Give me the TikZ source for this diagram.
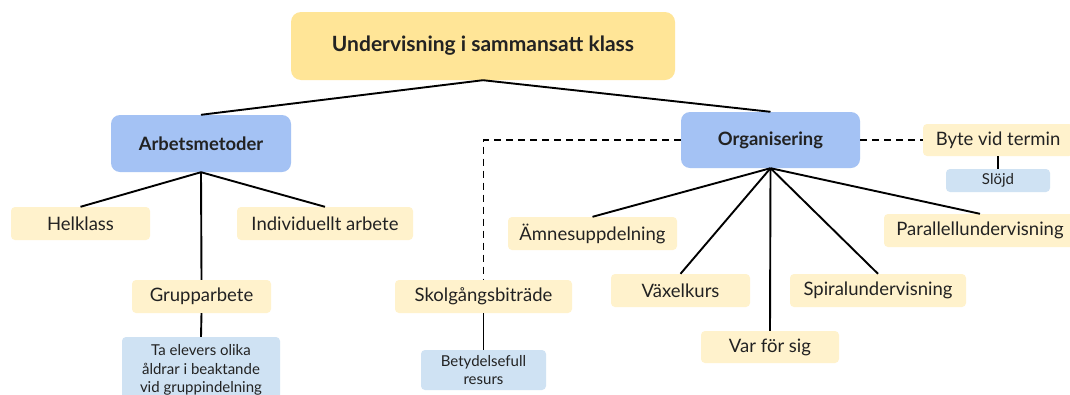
\documentclass[tikz,border=0pt]{standalone}
\usepackage{fontspec}
\setmainfont{Lato}
\definecolor{rootY}{HTML}{FFE597}
\definecolor{leafY}{HTML}{FFF2CC}
\definecolor{midB}{HTML}{A4C2F4}
\definecolor{noteB}{HTML}{CFE2F3}
\definecolor{txt}{HTML}{222222}
\begin{document}
\begin{tikzpicture}[x=1pt,y=-1pt,
  base/.style={inner sep=0pt, text=txt, align=center},
  rootbox/.style={base, fill=rootY, rounded corners=10pt, font=\bfseries\fontsize{21}{25}\selectfont},
  midbox/.style={base, fill=midB, rounded corners=9pt, font=\bfseries\fontsize{18.4}{22}\selectfont},
  leafbox/.style={base, fill=leafY, rounded corners=4pt, font=\fontsize{18.5}{22}\selectfont, minimum height=33pt},
  notebox/.style={base, fill=noteB, rounded corners=4pt, font=\fontsize{15}{18.5}\selectfont},
  link/.style={line width=1.9pt, draw=black},
  dlink/.style={line width=1.9pt, draw=black, dash pattern=on 7pt off 5pt}]
\useasboundingbox (0,0) rectangle (1070,394);
\clip (0,0) rectangle (1070,394);
\fill[white] (0,0) rectangle (1070,394);
% nodes
\node[rootbox, minimum width=384pt, minimum height=68pt] (root) at (483,46) {Undervisning i sammansatt klass};
\node[midbox, minimum width=180pt, minimum height=57pt] (arb) at (201,143.5) {Arbetsmetoder};
\node[midbox, minimum width=179pt, minimum height=56pt] (org) at (770.5,140) {Organisering};
\node[leafbox, minimum width=139pt] (hel) at (80.5,223.5) {Helklass};
\node[leafbox, minimum width=176pt] (ind) at (325,223.5) {Individuellt arbete};
\node[leafbox, minimum width=139pt] (grp) at (201.5,296.5) {Grupparbete};
\node[notebox, minimum width=158pt, minimum height=66pt] (ta) at (201,370) {Ta elevers olika\\åldrar i beaktande\\vid gruppindelning};
\node[leafbox, minimum width=177pt] (skol) at (483.5,296.5) {Skolgångsbiträde};
\node[notebox, minimum width=125pt, minimum height=40pt] (bet) at (483.5,370) {Betydelsefull\\resurs};
\node[leafbox, minimum width=169pt] (amn) at (592.5,233.5) {Ämnesuppdelning};
\node[leafbox, minimum width=139pt] (vax) at (680.5,290.5) {Växelkurs};
\node[leafbox, minimum width=138pt, minimum height=32pt] (var) at (770,347) {Var för sig};
\node[leafbox, minimum width=176pt] (spi) at (878,290.5) {Spiralundervisning};
\node[leafbox, minimum width=192pt] (par) at (980,230.5) {Parallellundervisning};
\node[leafbox, minimum width=150pt, minimum height=32pt] (byte) at (998,140) {Byte vid termin};
\node[notebox, minimum width=104pt, minimum height=23pt] (slo) at (998,180.5) {Slöjd};
% connectors
\draw[link] (root.south) -- (arb.north);
\draw[link] (root.south) -- (org.north);
\draw[link] (arb.south) -- (hel.north);
\draw[link] (arb.south) -- (ind.north);
\draw[link] (arb.south) -- (grp.north);
\draw[link] (grp.south) -- (ta.north);
\draw[link] (skol.south) -- (bet.north);
\draw[link] (org.south) -- (amn.north);
\draw[link] (org.south) -- (vax.north);
\draw[link] (org.south) -- (var.north);
\draw[link] (org.south) -- (spi.north);
\draw[link] (org.south) -- (par.north);
\draw[link, line width=1.4pt] (byte.south) -- (slo.north);
\draw[dlink] (org.west) -- (org.west -| skol.north) -- (skol.north);
\draw[dlink] (org.east) -- (byte.west);
\end{tikzpicture}
\end{document}
